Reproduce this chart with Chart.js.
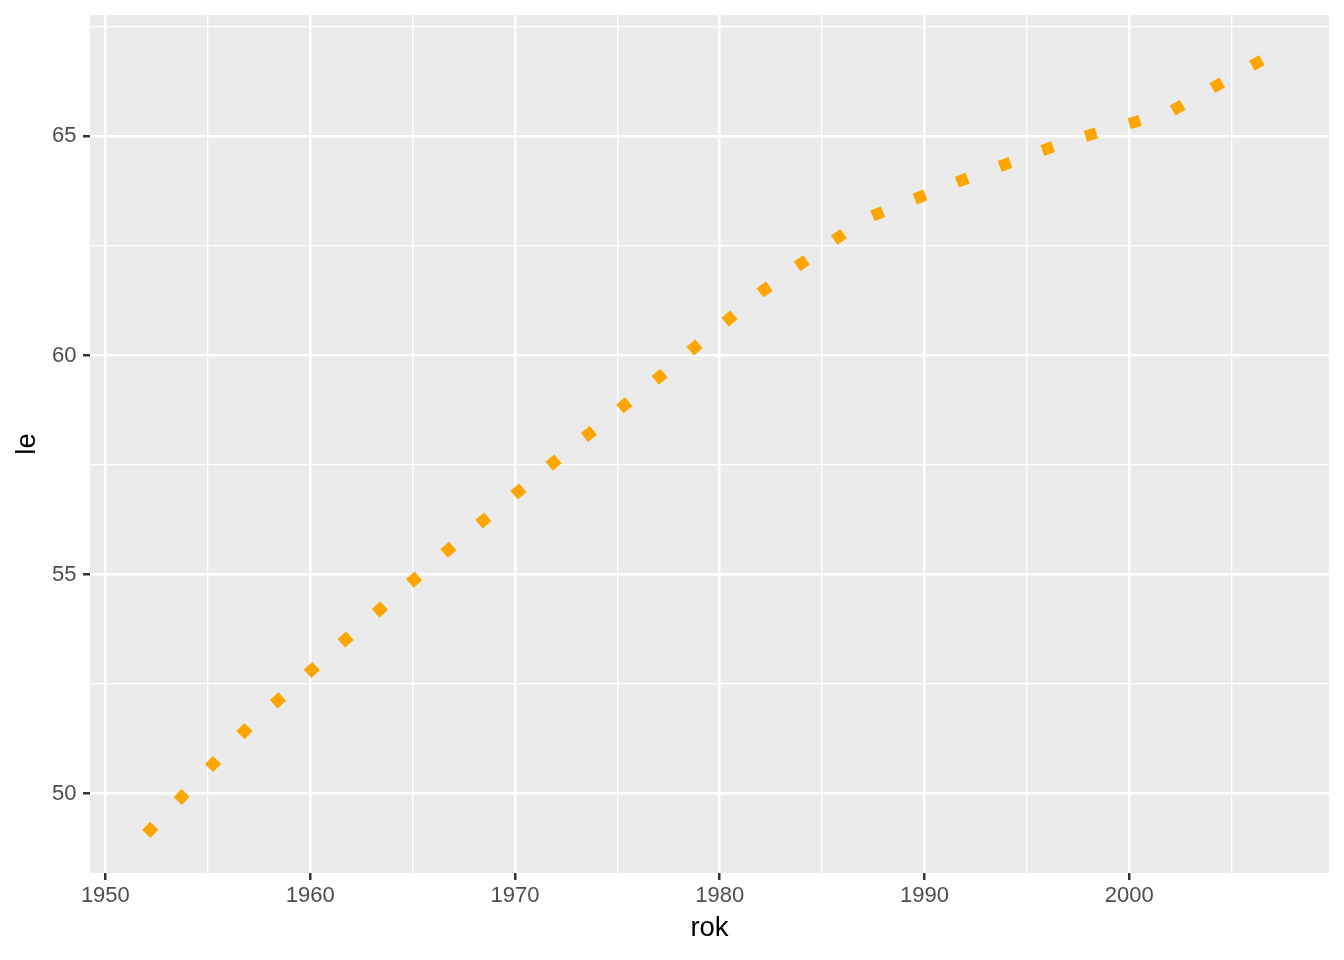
<!DOCTYPE html>
<html>
<head>
<meta charset="utf-8">
<script src="https://cdn.jsdelivr.net/npm/chart.js@4.4.0/dist/chart.umd.min.js"></script>
<style>
  html, body { margin: 0; padding: 0; background: #fff; }
  canvas { display: block; }
</style>
</head>
<body>
<canvas id="chart" width="1344" height="960"></canvas>
<script>
// data
var years = [1952, 1957, 1962, 1967, 1972, 1977, 1982, 1987, 1992, 1997, 2002, 2007];
var le = [49.08, 51.53, 53.63, 55.67, 57.60, 59.49, 61.44, 63.10, 64.03, 64.89, 65.56, 66.88];

// tick positions (majors get labels, minors only grid lines)
var xTicks = [1950, 1955, 1960, 1965, 1970, 1975, 1980, 1985, 1990, 1995, 2000, 2005];
var yTicks = [50, 52.5, 55, 57.5, 60, 62.5, 65, 67.5];

// ggplot style 5% expansion of the data range
function expand(arr) {
  var lo = Math.min.apply(null, arr), hi = Math.max.apply(null, arr);
  var d = (hi - lo) * 0.05;
  return [lo - d, hi + d];
}
var xr = expand(years);
var yr = expand(le);

var points = [];
for (var i = 0; i < years.length; i++) {
  points.push({x: years[i], y: le[i]});
}

var panelBg = {
  id: "panelBg",
  beforeDraw: function(chart) {
    var a = chart.chartArea;
    var ctx = chart.ctx;
    ctx.save();
    ctx.fillStyle = "#EBEBEB";
    ctx.fillRect(a.left, a.top, a.right - a.left, a.bottom - a.top);
    ctx.restore();
  }
};

function isMajorX(v) { return v % 10 === 0; }
function isMajorY(v) { return v % 5 === 0; }

var tickFont = {family: "'Liberation Sans', Arial, sans-serif", size: 22};
var titleFont = {family: "'Liberation Sans', Arial, sans-serif", size: 27.5};

new Chart(document.getElementById("chart").getContext("2d"), {
  type: "line",
  data: {
    datasets: [{
      label: "le",
      data: points,
      borderColor: "#FFA500",
      borderWidth: 11.4,
      borderDash: [11.4, 34.1],
      borderCapStyle: "butt",
      borderJoinStyle: "round",
      pointRadius: 0,
      pointHoverRadius: 0,
      tension: 0,
      fill: false
    }]
  },
  options: {
    responsive: false,
    devicePixelRatio: 1,
    animation: false,
    layout: {padding: {top: 15, right: 15, left: 0, bottom: 0}},
    plugins: {
      legend: {display: false},
      tooltip: {enabled: false}
    },
    scales: {
      x: {
        type: "linear",
        min: xr[0],
        max: xr[1],
        afterBuildTicks: function(scale) {
          scale.ticks = xTicks.map(function(v) { return {value: v}; });
        },
        afterFit: function(scale) {
          scale.height = 87;
          scale.paddingLeft = 0;
          scale.paddingRight = 0;
        },
        ticks: {
          autoSkip: false,
          maxRotation: 0,
          padding: 3,
          color: "#4D4D4D",
          font: tickFont,
          callback: function(v) { return isMajorX(v) ? String(v) : ""; }
        },
        grid: {
          color: "#FFFFFF",
          lineWidth: function(c) { return c.tick && isMajorX(c.tick.value) ? 2.5 : 1.3; },
          tickLength: 7,
          tickWidth: 2.5,
          tickColor: function(c) { return c.tick && isMajorX(c.tick.value) ? "#333333" : "rgba(0,0,0,0)"; }
        },
        border: {display: false},
        title: {
          display: true,
          text: "rok",
          color: "#000000",
          font: titleFont,
          padding: {top: 0, bottom: 15}
        }
      },
      y: {
        type: "linear",
        min: yr[0],
        max: yr[1],
        afterBuildTicks: function(scale) {
          scale.ticks = yTicks.map(function(v) { return {value: v}; });
        },
        afterFit: function(scale) {
          scale.width = 90;
          scale.paddingTop = 0;
          scale.paddingBottom = 0;
        },
        ticks: {
          autoSkip: false,
          padding: 6.5,
          color: "#4D4D4D",
          font: tickFont,
          callback: function(v) { return isMajorY(v) ? String(v) : ""; }
        },
        grid: {
          color: "#FFFFFF",
          lineWidth: function(c) { return c.tick && isMajorY(c.tick.value) ? 2.5 : 1.3; },
          tickLength: 7,
          tickWidth: 2.5,
          tickColor: function(c) { return c.tick && isMajorY(c.tick.value) ? "#333333" : "rgba(0,0,0,0)"; }
        },
        border: {display: false},
        title: {
          display: true,
          text: "le",
          color: "#000000",
          font: titleFont,
          padding: {top: 10.5, bottom: 0}
        }
      }
    }
  },
  plugins: [panelBg]
});
</script>
</body>
</html>
